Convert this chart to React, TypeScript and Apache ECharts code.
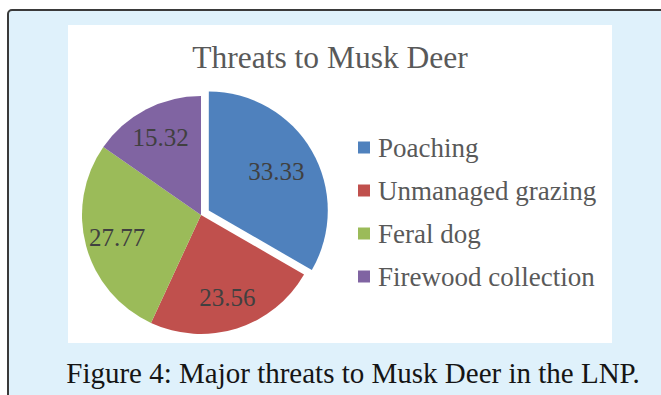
import React, { useEffect, useRef } from "react";
import * as echarts from "echarts";

const categories = ["Poaching", "Unmanaged grazing", "Feral dog", "Firewood collection"];
const values = [33.33, 23.56, 27.77, 15.32];
const colors = ["#4f81bd", "#c0504d", "#9bbb59", "#8064a2"];
const chartTitle = "Threats to Musk Deer";
const caption = "Figure 4: Major threats to Musk Deer in the LNP.";

const SERIF = "Liberation Serif";

export default function App() {
  const ref = useRef<HTMLDivElement>(null);
  useEffect(() => {
    if (!ref.current) return;
    const chart = echarts.init(ref.current, undefined, { renderer: "svg" });
    const data = categories.map((name, i) => ({
      name,
      value: values[i],
      selected: i === 0,
      itemStyle: { color: colors[i] },
    }));
    const center = [201, 215];
    chart.setOption({
      animation: false,
      backgroundColor: "#ffffff",
      textStyle: { fontFamily: SERIF },
      graphic: [
        {
          type: "rect",
          z: -10,
          silent: true,
          shape: { x: 8, y: 10, width: 720, height: 420, r: 4 },
          style: { fill: "#dff1fb", stroke: "#3a3a3a", lineWidth: 2 },
        },
        {
          type: "rect",
          z: -9,
          silent: true,
          shape: { x: 68, y: 25, width: 544, height: 318 },
          style: { fill: "#ffffff" },
        },
        {
          type: "text",
          silent: true,
          x: 330,
          y: 57,
          style: {
            text: chartTitle,
            fill: "#595959",
            font: '31.5px "Liberation Serif", serif',
            textAlign: "center",
            textVerticalAlign: "middle",
          },
        },
        {
          type: "text",
          silent: true,
          x: 353,
          y: 373,
          style: {
            text: caption,
            fill: "#151515",
            font: '29px "Liberation Serif", serif',
            textAlign: "center",
            textVerticalAlign: "middle",
          },
        },
      ],
      legend: {
        orient: "vertical",
        left: 358,
        top: 134,
        padding: 0,
        data: categories,
        icon: "rect",
        itemWidth: 12,
        itemHeight: 12,
        itemGap: 16,
        selectedMode: false,
        textStyle: {
          fontFamily: SERIF,
          fontSize: 27,
          lineHeight: 27,
          color: "#595959",
          padding: [0, 0, 0, 3],
        },
      },
      series: [
        {
          type: "pie",
          center,
          radius: [0, 119],
          startAngle: 90,
          clockwise: true,
          selectedMode: "single",
          selectedOffset: 9,
          label: { show: false },
          labelLine: { show: false },
          itemStyle: { borderWidth: 0 },
          emphasis: { disabled: true },
          data,
        },
        {
          type: "pie",
          center,
          radius: [0, 168],
          startAngle: 90,
          clockwise: true,
          silent: true,
          itemStyle: { color: "rgba(0,0,0,0)", borderWidth: 0 },
          label: {
            show: true,
            position: "inside",
            formatter: "{c}",
            fontFamily: SERIF,
            fontSize: 25,
            color: "#404040",
          },
          labelLine: { show: false },
          emphasis: { disabled: true },
          data: categories.map((name, i) => ({
            name,
            value: values[i],
            itemStyle: { color: "rgba(0,0,0,0)" },
          })),
        },
      ],
    });
    return () => chart.dispose();
  }, []);
  return (
    <div
      ref={ref}
      style={{ position: "fixed", left: 0, top: 0, width: 661, height: 395 }}
    />
  );
}
